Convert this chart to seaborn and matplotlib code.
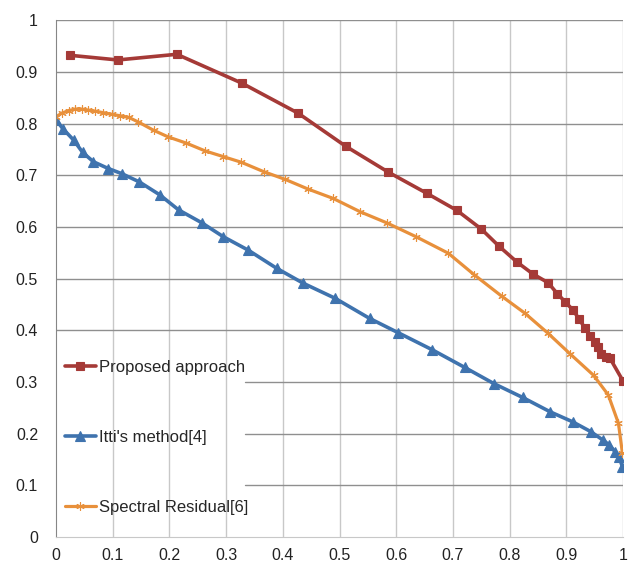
import matplotlib
matplotlib.use('Agg')
import matplotlib.pyplot as plt
import pandas as pd
import seaborn as sns

proposed_x = [0.025, 0.109, 0.213, 0.328, 0.427, 0.511, 0.586, 0.654, 0.707,
              0.750, 0.781, 0.813, 0.841, 0.868, 0.884, 0.898, 0.912, 0.923,
              0.933, 0.942, 0.951, 0.956, 0.962, 0.970, 0.977, 1.000]
proposed_y = [0.932, 0.923, 0.934, 0.878, 0.820, 0.756, 0.706, 0.665, 0.632,
              0.596, 0.563, 0.532, 0.509, 0.492, 0.471, 0.455, 0.439, 0.421,
              0.404, 0.389, 0.378, 0.367, 0.355, 0.349, 0.346, 0.302]

itti_x = [0.000, 0.012, 0.031, 0.047, 0.066, 0.092, 0.116, 0.147, 0.183,
          0.216, 0.257, 0.295, 0.339, 0.389, 0.436, 0.492, 0.553, 0.604,
          0.664, 0.721, 0.772, 0.823, 0.872, 0.911, 0.943, 0.964, 0.976,
          0.986, 0.993, 0.999]
itti_y = [0.807, 0.790, 0.768, 0.744, 0.726, 0.713, 0.703, 0.687, 0.662,
          0.633, 0.608, 0.581, 0.555, 0.520, 0.491, 0.462, 0.423, 0.395,
          0.362, 0.328, 0.297, 0.270, 0.242, 0.223, 0.204, 0.188, 0.178,
          0.165, 0.155, 0.136]

spectral_x = [0.000, 0.010, 0.022, 0.034, 0.045, 0.057, 0.069, 0.083, 0.098,
              0.113, 0.128, 0.145, 0.172, 0.198, 0.230, 0.263, 0.295, 0.327,
              0.366, 0.404, 0.445, 0.489, 0.537, 0.583, 0.635, 0.692, 0.738,
              0.786, 0.827, 0.868, 0.907, 0.948, 0.974, 0.992, 0.999]
spectral_y = [0.813, 0.820, 0.825, 0.828, 0.828, 0.826, 0.824, 0.821, 0.818,
              0.815, 0.812, 0.803, 0.787, 0.774, 0.762, 0.747, 0.736, 0.725,
              0.707, 0.692, 0.673, 0.655, 0.629, 0.608, 0.581, 0.549, 0.507,
              0.466, 0.433, 0.394, 0.354, 0.313, 0.275, 0.220, 0.162]

labels = ['Proposed approach', "Itti's method[4]", 'Spectral Residual[6]']
ticks = [round(0.1 * i, 1) for i in range(11)]
tick_labels = ['0', '0.1', '0.2', '0.3', '0.4', '0.5', '0.6', '0.7', '0.8',
               '0.9', '1']

sns.set_style('white')
plt.rcParams['font.family'] = ['Liberation Sans', 'DejaVu Sans']

red = '#A53A37'
blue = '#3F73AE'
orange = '#E8903B'

fig = plt.figure(figsize=(6.37, 5.73), dpi=100)
ax = fig.add_axes([0.088, 0.0628, 0.890, 0.902])

# gridlines: verticals light, horizontals darker; the lower horizontals
# are hidden behind the legend box
for t in ticks[1:]:
    ax.axvline(t, color='#C8C8C8', lw=1.0, zorder=0)
for t in ticks[1:]:
    start = 0.333 if t < 0.35 else 0.0
    ax.axhline(t, xmin=start, color='#8F8F8F', lw=1.0, zorder=0)

series = [
    (proposed_x, proposed_y, red, 's', 6, 2.6),
    (itti_x, itti_y, blue, '^', 6.5, 2.6),
    (spectral_x, spectral_y, orange, (6, 2, 0), 6, 2.3),
]
for (xs, ys, col, mk, ms, lw), lab in zip(series, labels):
    df = pd.DataFrame({'recall': xs, 'precision': ys})
    sns.lineplot(data=df, x='recall', y='precision', ax=ax, sort=False,
                 color=col, lw=lw, marker=mk, markersize=ms,
                 markeredgecolor=col, markeredgewidth=0.8, label=lab)

ax.set_xlim(0, 1)
ax.set_ylim(0, 1)
ax.set_xticks(ticks)
ax.set_xticklabels(tick_labels)
ax.set_yticks(ticks)
ax.set_yticklabels(tick_labels)
ax.set_xlabel('')
ax.set_ylabel('')
ax.tick_params(axis='x', labelsize=11.5, colors='#222222', length=0, pad=8)
ax.tick_params(axis='y', labelsize=11.5, colors='#222222', length=4, width=1,
               direction='out', pad=9)
ax.tick_params(axis='y', color='#868686')

for side in ['top', 'right']:
    ax.spines[side].set_visible(False)
ax.spines['left'].set_color('#868686')
ax.spines['bottom'].set_color('#C8C8C8')

ax.legend(loc='upper left', bbox_to_anchor=(0.015, 0.343), frameon=False,
          fontsize=12, labelspacing=3.3, handlelength=1.9,
          handletextpad=0.15, borderpad=0, borderaxespad=0)

fig.savefig('out.png', dpi=100)
